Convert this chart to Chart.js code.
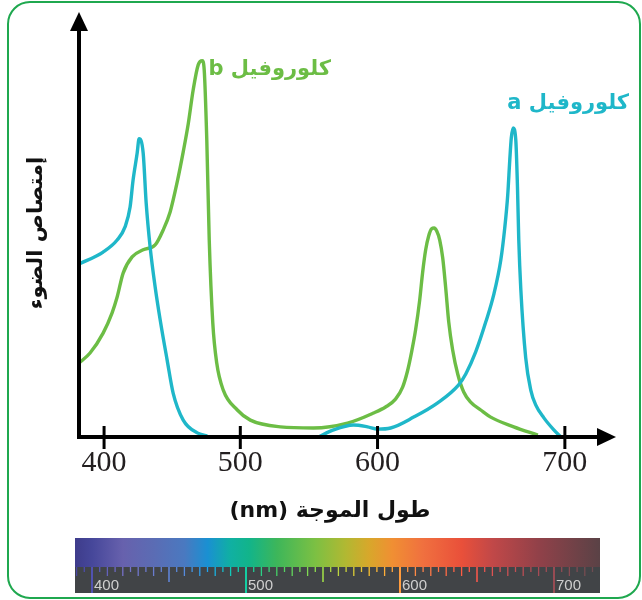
<!DOCTYPE html>
<html><head><meta charset="utf-8">
<script src="https://cdn.jsdelivr.net/npm/chart.js@4"></script>
<style>html,body{margin:0;padding:0;background:#fff;}canvas{display:block}</style>
</head><body>
<canvas id="c" width="642" height="600"></canvas>
<script>
// ---------- data ----------
const xTicks = [400, 500, 600, 700];
const spectrumTicks = [400, 500, 600, 700];
const seriesLabels = ['كلوروفيل a', 'كلوروفيل b'];
const xTitle = 'طول الموجة (nm)';
const yTitle = 'إمتصاص الضوء';

const chlA_nm  = [381.6, 399.3, 409.6, 415.4, 419.1, 421.3, 424.3, 425.7, 428.7, 430.9, 433.8, 437.5, 441.2, 446.3, 450.7, 458.1, 468.4, 475.7, 515, 556.9, 567.9, 582.5, 592.7, 600, 607.0, 619.3, 632.1, 643.3, 647.1, 652.4, 657.8, 662.0, 665.8, 667.9, 669.5, 670.6, 671.4, 672.4, 673.8, 674.7, 675.4, 676.5, 679.1, 681.8, 684.5, 688.8, 694.1, 697.9];
const chlA_abs = [46.1, 49.3, 52.5, 56.0, 61.3, 68.5, 75.7, 79.5, 75.7, 62.4, 50.7, 40.0, 31.2, 20.5, 11.7, 4.5, 1.1, 0.3, null, 0, 1.9, 3.2, 2.7, 2.1, 2.4, 5.3, 9.1, 13.9, 16.8, 22.7, 30.7, 37.9, 47.2, 55.7, 64.5, 73.9, 79.7, 82.4, 79.2, 66.7, 52.5, 39.2, 21.1, 12.5, 8.5, 5.1, 1.9, 0];

const chlB_nm  = [381.6, 389.7, 399.3, 405.9, 409.6, 414.0, 420.6, 428.7, 437.5, 443.4, 448.5, 453.7, 458.1, 461.8, 465.4, 469.1, 472.1, 473.5, 475.4, 477.2, 479.8, 482.7, 487.5, 497.8, 507.3, 529.2, 553.3, 578.1, 597.1, 604.3, 609.6, 613.4, 616.0, 618.2, 620.3, 622.5, 624.1, 625.7, 627.3, 628.9, 630.2, 631.6, 633.2, 634.8, 636.4, 638.0, 640.1, 642.8, 646.0, 649.7, 655.1, 660.4, 672.7, 685.6];
const chlB_abs = [19.7, 22.4, 27.7, 33.1, 37.3, 43.7, 48.0, 49.9, 51.2, 55.2, 60.0, 68.0, 76.0, 83.5, 92.5, 99.2, 100.3, 97.9, 79.2, 52.5, 30.4, 19.7, 12.5, 7.2, 4.5, 2.7, 2.4, 3.7, 6.4, 8.0, 10.1, 13.3, 17.6, 22.7, 28.5, 36.5, 44.0, 49.9, 53.6, 55.5, 55.7, 54.9, 52.5, 47.7, 39.7, 30.7, 23.2, 16.8, 12.0, 9.3, 7.2, 5.3, 2.7, 0.5];

// ---------- styles ----------
const GREEN = '#6cbd45', TEAL = '#1fb7c9';
const SPECTRUM_STOPS = [
  [385,'#3b3886'],[400,'#46479a'],[420,'#6761ad'],[440,'#5b6cb4'],[460,'#4a79c0'],[475,'#1a90d2'],
  [490,'#10b0a2'],[502,'#12b48a'],[520,'#3db65a'],[545,'#7cc043'],[565,'#b2b832'],[580,'#d8a72b'],
  [595,'#f08f33'],[615,'#f0703f'],[640,'#e9503a'],[660,'#c14848'],[690,'#914149'],[730,'#5a4246']
];

// Non-uniform wavelength axis of the original figure (breakpoints: nm -> relative axis units)
const AXIS_KNOTS = [[400,0],[500,136],[600,273],[700,460]];
function warp(w){
  const k = AXIS_KNOTS; let i = w <= k[1][0] ? 0 : (w <= k[2][0] ? 1 : 2);
  const [a,pa] = k[i], [b,pb] = k[i+1];
  return pa + (w - a) * (pb - pa) / (b - a);
}
function unwarp(u){
  const k = AXIS_KNOTS; let i = u <= k[1][1] ? 0 : (u <= k[2][1] ? 1 : 2);
  const [a,pa] = k[i], [b,pb] = k[i+1];
  return a + (u - pa) * (b - a) / (pb - pa);
}
class WarpScale extends Chart.LinearScale {
  getPixelForValue(v){
    if (v === null || v === undefined || isNaN(v)) return NaN;
    const a = warp(this.min), b = warp(this.max);
    return this.getPixelForDecimal((warp(v) - a) / (b - a));
  }
  getValueForPixel(p){
    const a = warp(this.min), b = warp(this.max);
    return unwarp(a + this.getDecimalForPixel(p) * (b - a));
  }
}
WarpScale.id = 'warp';
WarpScale.defaults = Chart.LinearScale.defaults;
Chart.register(WarpScale);

function hexToRgb(h){ const n = parseInt(h.slice(1),16); return [(n>>16)&255,(n>>8)&255,n&255]; }
function specColor(nm, boost){
  const s = SPECTRUM_STOPS; let c;
  if (nm <= s[0][0]) c = hexToRgb(s[0][1]);
  else if (nm >= s[s.length-1][0]) c = hexToRgb(s[s.length-1][1]);
  else {
    for (let i=0;i<s.length-1;i++){
      if (nm >= s[i][0] && nm <= s[i+1][0]){
        const t = (nm - s[i][0])/(s[i+1][0]-s[i][0]);
        const c1 = hexToRgb(s[i][1]), c2 = hexToRgb(s[i+1][1]);
        c = c1.map((v,j)=>v+(c2[j]-v)*t); break;
      }
    }
  }
  if (boost) c = c.map(v=>Math.min(255, v*boost));
  return `rgb(${c.map(Math.round).join(',')})`;
}

const toPts = (xs, ys) => xs.map((x,i)=>({x, y: ys[i]}));

const decor = {
  id: 'decor',
  afterDatasetsDraw(chart){
    const {ctx, chartArea: ca, scales: {x}} = chart;
    ctx.save();
    ctx.strokeStyle = '#000'; ctx.fillStyle = '#000';
    ctx.lineWidth = 4;
    ctx.beginPath(); ctx.moveTo(ca.left, ca.bottom + 2); ctx.lineTo(ca.left, ca.top + 16); ctx.stroke();
    ctx.beginPath(); ctx.moveTo(ca.left, ca.top); ctx.lineTo(ca.left - 9, ca.top + 19); ctx.lineTo(ca.left + 9, ca.top + 19); ctx.closePath(); ctx.fill();
    ctx.beginPath(); ctx.moveTo(ca.left - 2, ca.bottom); ctx.lineTo(ca.right - 16, ca.bottom); ctx.stroke();
    ctx.beginPath(); ctx.moveTo(ca.right, ca.bottom); ctx.lineTo(ca.right - 19, ca.bottom - 9); ctx.lineTo(ca.right - 19, ca.bottom + 9); ctx.closePath(); ctx.fill();
    ctx.lineWidth = 3;
    x.ticks.forEach((t, i) => {
      const px = x.getPixelForTick(i);
      ctx.beginPath(); ctx.moveTo(px, ca.bottom - 11); ctx.lineTo(px, ca.bottom + 12); ctx.stroke();
    });
    ctx.restore();
  },
  afterDraw(chart){
    const {ctx} = chart;
    ctx.save();
    // series labels
    ctx.direction = 'rtl'; ctx.textAlign = 'right'; ctx.textBaseline = 'middle';
    ctx.font = 'bold 21px "DejaVu Sans"';
    ctx.fillStyle = GREEN; ctx.fillText(seriesLabels[1], 331, 70);
    ctx.fillStyle = TEAL;  ctx.fillText(seriesLabels[0], 629, 104);
    // x title
    ctx.textAlign = 'center'; ctx.fillStyle = '#111';
    ctx.font = 'bold 22px "DejaVu Sans"';
    ctx.fillText(xTitle, 330, 511);
    // y title
    ctx.save(); ctx.translate(37, 233); ctx.rotate(-Math.PI/2);
    ctx.font = 'bold 21px "DejaVu Sans"';
    ctx.fillText(yTitle, 0, 0);
    ctx.restore();
    ctx.direction = 'ltr';

    // spectrum bar
    const L = 75, R = 600, T = 538, M = 567, B = 593;
    const nmToPx = nm => 92 + (nm - 400) * 1.54;
    const pxToNm = px => 400 + (px - 92) / 1.54;
    const g = ctx.createLinearGradient(L, 0, R, 0);
    g.addColorStop(0, specColor(pxToNm(L)));
    SPECTRUM_STOPS.forEach(([nm, col]) => {
      const t = (nmToPx(nm) - L) / (R - L);
      if (t > 0 && t < 1) g.addColorStop(t, col);
    });
    g.addColorStop(1, specColor(pxToNm(R)));
    ctx.fillStyle = g; ctx.fillRect(L, T, R - L, M - T);
    ctx.fillStyle = '#414447'; ctx.fillRect(L, M, R - L, B - M);
    for (let nm = 390; nm <= 730; nm += 5){
      const px = nmToPx(nm);
      if (px < L + 1 || px > R - 1) continue;
      let len = 5, w = 1.3;
      if (nm % 100 === 0){ len = B - M; w = 2; }
      else if (nm % 50 === 0){ len = 15; w = 1.6; }
      else if (nm % 10 === 0){ len = 9; }
      ctx.strokeStyle = specColor(nm, 1.15); ctx.lineWidth = w;
      ctx.beginPath(); ctx.moveTo(px, M); ctx.lineTo(px, M + len); ctx.stroke();
    }
    ctx.fillStyle = '#cfcfcf'; ctx.font = '15px "Liberation Sans"';
    ctx.textAlign = 'left'; ctx.textBaseline = 'alphabetic';
    spectrumTicks.forEach(nm => ctx.fillText(String(nm), nmToPx(nm) + 2, 590));

    // frame
    ctx.strokeStyle = '#1fa84f'; ctx.lineWidth = 2;
    ctx.beginPath(); ctx.roundRect(8, 2, 632, 596, 22); ctx.stroke();
    ctx.restore();
  }
};

new Chart(document.getElementById('c'), {
  type: 'line',
  data: {
    datasets: [
      { label: seriesLabels[0], data: toPts(chlA_nm, chlA_abs), borderColor: TEAL, borderWidth: 3.4, pointRadius: 0, cubicInterpolationMode: 'monotone', fill: false, spanGaps: false },
      { label: seriesLabels[1], data: toPts(chlB_nm, chlB_abs), borderColor: GREEN, borderWidth: 3.4, pointRadius: 0, cubicInterpolationMode: 'monotone', fill: false }
    ]
  },
  options: {
    responsive: false, animation: false, parsing: true,
    layout: { padding: { left: 79, right: 26, top: 12, bottom: 0 } },
    plugins: { legend: { display: false }, tooltip: { enabled: false } },
    scales: {
      x: {
        type: 'warp', min: 381.6, max: 727.3,
        afterBuildTicks: s => { s.ticks = xTicks.map(v => ({ value: v })); },
        afterFit: s => { s.height = 163; },
        grid: { display: false, drawTicks: false },
        border: { display: false },
        ticks: { autoSkip: false, maxRotation: 0, padding: 8, color: '#231f20', font: { family: 'Liberation Serif', size: 30 }, callback: v => String(v) }
      },
      y: { type: 'linear', min: 0, max: 113.3, display: false }
    }
  },
  plugins: [decor]
});
</script>
</body></html>
